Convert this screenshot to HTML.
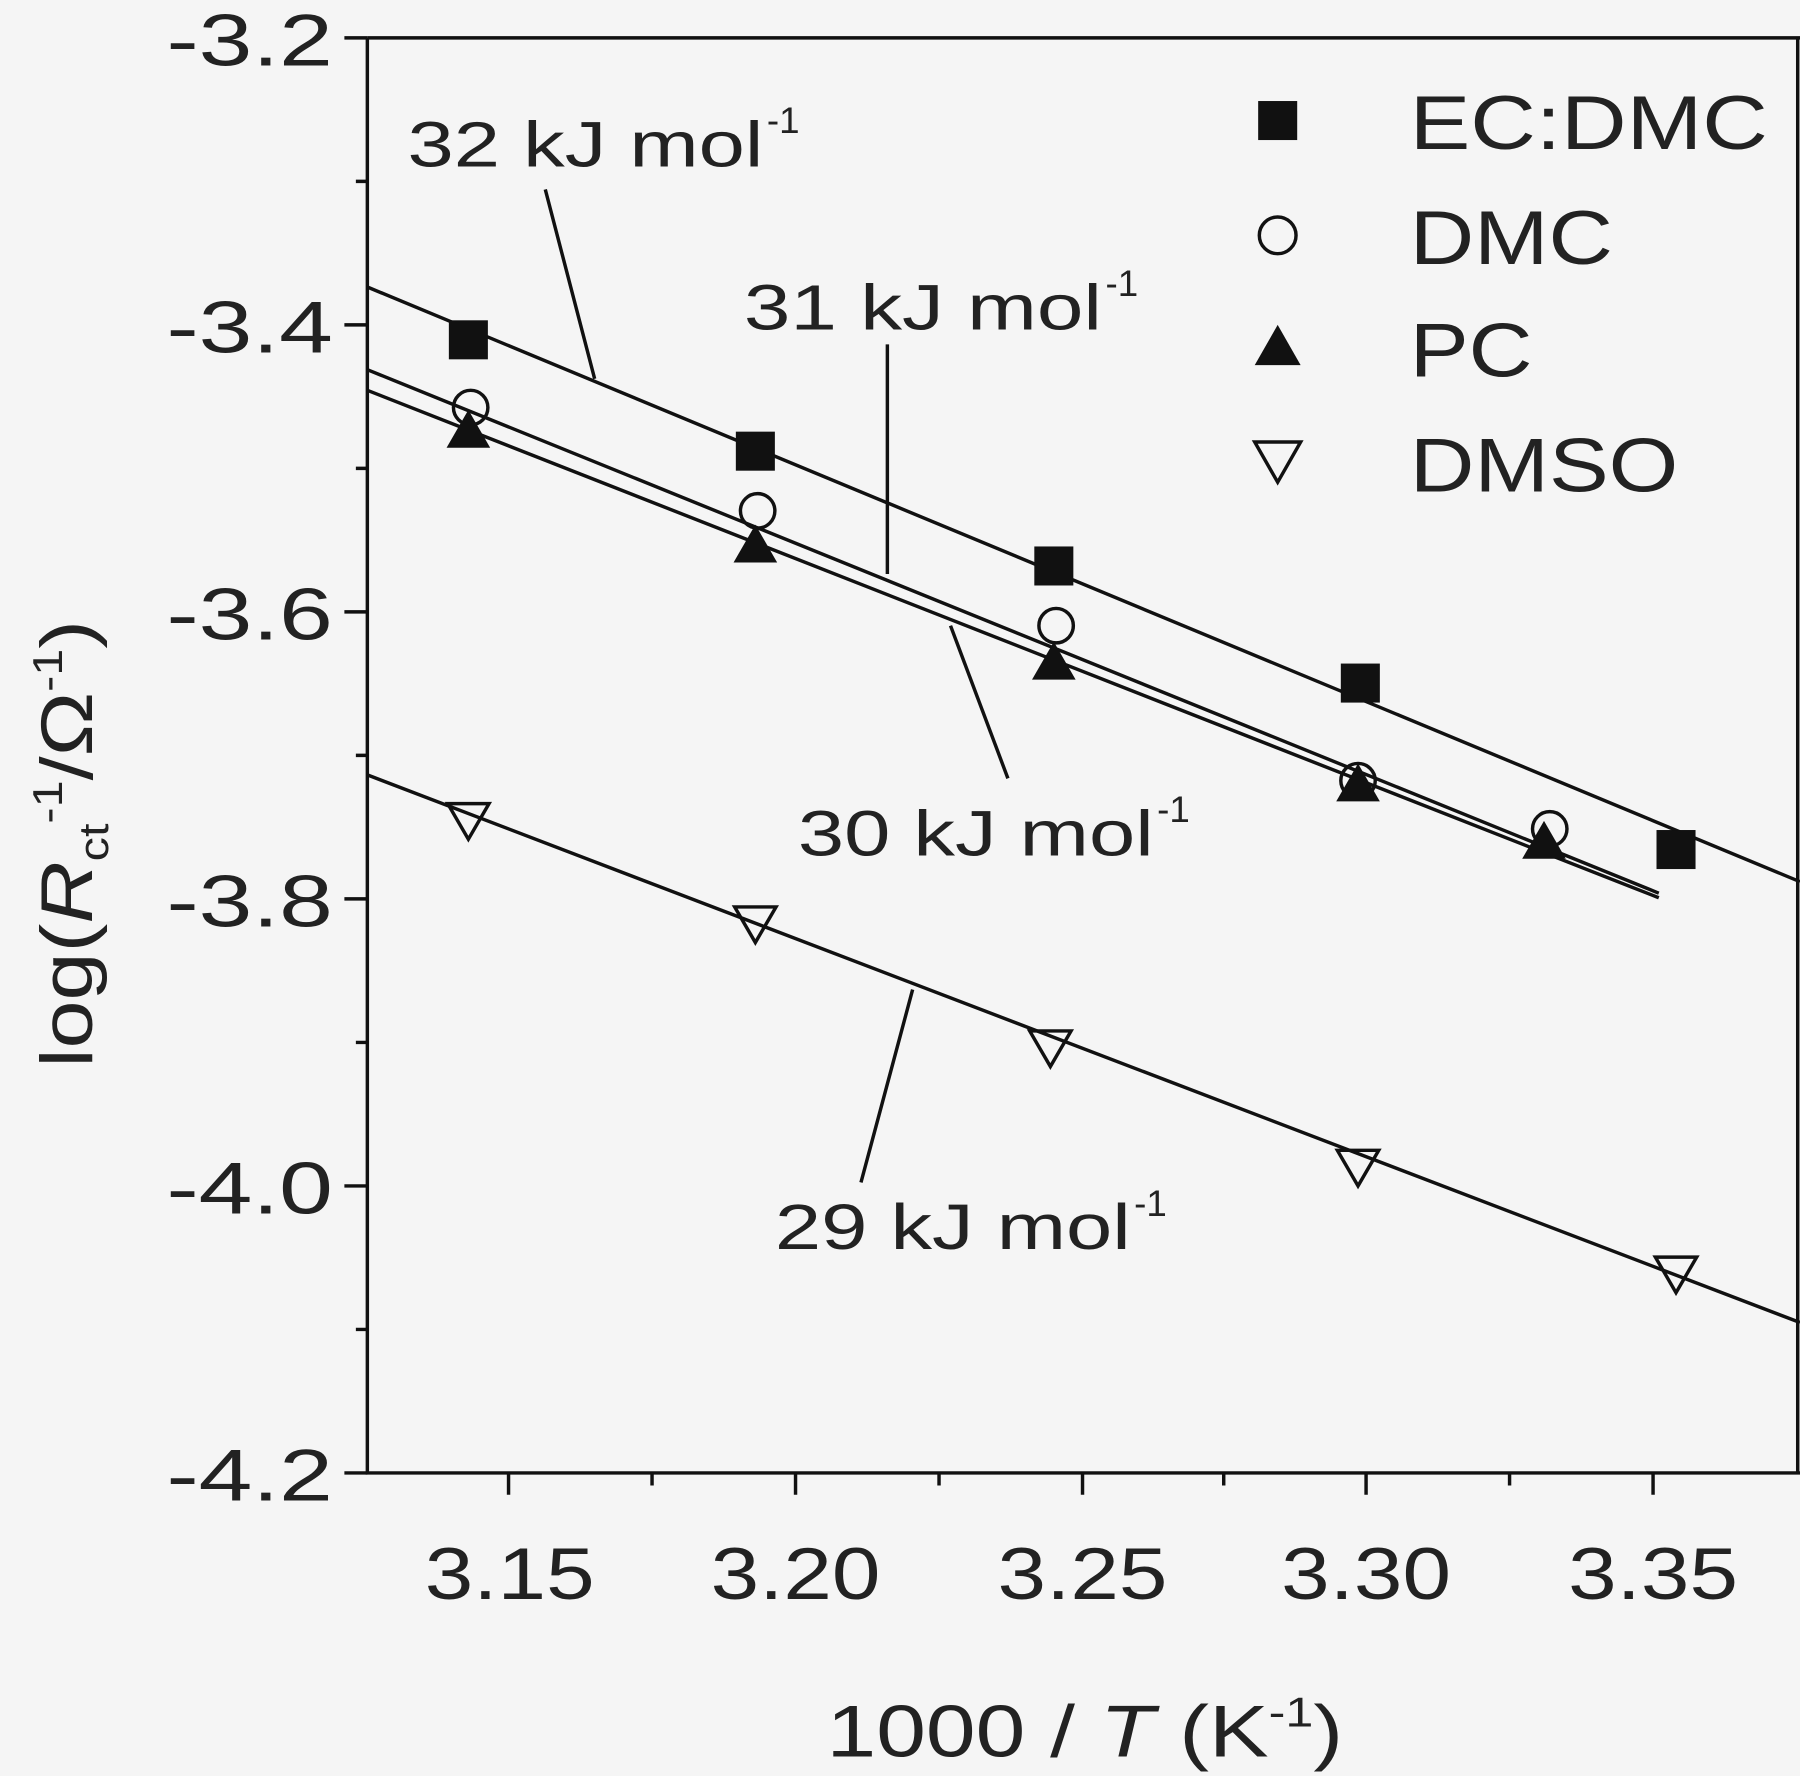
<!DOCTYPE html>
<html><head><style>html,body{margin:0;padding:0;background:#f5f5f5;}svg{display:block}</style></head>
<body>
<svg width="1800" height="1776" viewBox="0 0 1568 1547" preserveAspectRatio="none" xmlns="http://www.w3.org/2000/svg" font-family="Liberation Sans, sans-serif" fill="#1a1a1a">
<rect width="1568" height="1547" fill="#f5f5f5"/>
<g stroke="#111" stroke-width="3" fill="none">
<path d="M320,33 H1568 M320,33 V1283 H1568"/>
<path d="M1566,33 V1283"/>
<path d="M300,33H320 M300,283H320 M300,533H320 M300,783H320 M300,1033H320 M300,1283H320 M310,158H320 M310,408H320 M310,658H320 M310,908H320 M310,1158H320"/>
<path d="M443,1283V1302 M693,1283V1302 M943,1283V1302 M1190,1283V1302 M1440,1283V1302 M568,1283V1294 M818,1283V1294 M1066,1283V1294 M1315,1283V1294"/>
</g>
<g font-size="64" fill="#222" lengthAdjust="spacingAndGlyphs">
<text x="145" y="57" textLength="145" lengthAdjust="spacingAndGlyphs">-3.2</text>
<text x="145" y="307" textLength="145" lengthAdjust="spacingAndGlyphs">-3.4</text>
<text x="145" y="557" textLength="145" lengthAdjust="spacingAndGlyphs">-3.6</text>
<text x="145" y="807" textLength="145" lengthAdjust="spacingAndGlyphs">-3.8</text>
<text x="145" y="1057" textLength="145" lengthAdjust="spacingAndGlyphs">-4.0</text>
<text x="145" y="1307" textLength="145" lengthAdjust="spacingAndGlyphs">-4.2</text>
</g>
<g font-size="64" fill="#222">
<text x="370" y="1393" textLength="148" lengthAdjust="spacingAndGlyphs">3.15</text>
<text x="619" y="1393" textLength="148" lengthAdjust="spacingAndGlyphs">3.20</text>
<text x="869" y="1393" textLength="148" lengthAdjust="spacingAndGlyphs">3.25</text>
<text x="1116" y="1393" textLength="148" lengthAdjust="spacingAndGlyphs">3.30</text>
<text x="1366" y="1393" textLength="148" lengthAdjust="spacingAndGlyphs">3.35</text>
</g>
<text x="720" y="1530" font-size="64" fill="#222" textLength="450" lengthAdjust="spacingAndGlyphs">1000 / <tspan font-style="italic">T</tspan> (K<tspan dy="-26" font-size="36">-1</tspan><tspan dy="26">)</tspan></text>
<text transform="translate(80,735) rotate(-90)" x="-195" y="0" font-size="64" fill="#222" textLength="390" lengthAdjust="spacingAndGlyphs">log(<tspan font-style="italic">R</tspan><tspan dy="14" font-size="36">ct</tspan><tspan dy="-40" font-size="36">-1</tspan><tspan dy="26">/Ω</tspan><tspan dy="-26" font-size="36">-1</tspan><tspan dy="26">)</tspan></text>
<g stroke="#111" stroke-width="3" fill="none">
<line x1="320" y1="250" x2="1568" y2="768"/>
<line x1="320" y1="322" x2="1445" y2="778"/>
<line x1="320" y1="340" x2="1445" y2="782"/>
<line x1="320" y1="675" x2="1568" y2="1152"/>
<line x1="475" y1="165" x2="518" y2="330"/>
<line x1="773" y1="300" x2="773" y2="500"/>
<line x1="828" y1="545" x2="878" y2="678"/>
<line x1="795" y1="862" x2="750" y2="1030"/>
</g>
<g fill="#111">
<rect x="391" y="279" width="34" height="34"/><rect x="641" y="376" width="34" height="34"/><rect x="901" y="476" width="34" height="34"/><rect x="1168" y="578" width="34" height="34"/><rect x="1443" y="723" width="34" height="34"/>
<rect x="1096" y="88" width="34" height="34"/>
</g>
<g fill="none" stroke="#111" stroke-width="3">
<circle cx="410" cy="355" r="15"/><circle cx="660" cy="445" r="15"/><circle cx="920" cy="545" r="15"/><circle cx="1183" cy="680" r="15"/><circle cx="1350" cy="722" r="15"/>
<circle cx="1113" cy="205" r="16"/>
</g>
<g fill="#111">
<path d="M408,357 l19,33 h-38z"/><path d="M658,457 l19,33 h-38z"/><path d="M918,559 l19,33 h-38z"/><path d="M1183,665 l19,33 h-38z"/><path d="M1345,715 l19,33 h-38z"/>
<path d="M1113,283 l20,35 h-40z"/>
</g>
<g fill="none" stroke="#111" stroke-width="3">
<path d="M390,700 h36 l-18,31z"/><path d="M640,790 h36 l-18,31z"/><path d="M897,898 h36 l-18,31z"/><path d="M1165,1002 h36 l-18,31z"/><path d="M1442,1095 h36 l-18,31z"/>
<path d="M1093,385 h40 l-20,35z"/>
</g>
<g font-size="66" fill="#222">
<text x="1228" y="130" textLength="312" lengthAdjust="spacingAndGlyphs">EC:DMC</text>
<text x="1228" y="230" textLength="177" lengthAdjust="spacingAndGlyphs">DMC</text>
<text x="1228" y="328" textLength="107" lengthAdjust="spacingAndGlyphs">PC</text>
<text x="1228" y="428" textLength="234" lengthAdjust="spacingAndGlyphs">DMSO</text>
</g>
<g font-size="56" fill="#222">
<text x="355" y="145" textLength="310" lengthAdjust="spacingAndGlyphs">32 kJ mol</text><text x="668" y="116" font-size="32">-1</text>
<text x="648" y="287" textLength="312" lengthAdjust="spacingAndGlyphs">31 kJ mol</text><text x="963" y="258" font-size="32">-1</text>
<text x="695" y="745" textLength="310" lengthAdjust="spacingAndGlyphs">30 kJ mol</text><text x="1008" y="716" font-size="32">-1</text>
<text x="675" y="1088" textLength="310" lengthAdjust="spacingAndGlyphs">29 kJ mol</text><text x="988" y="1059" font-size="32">-1</text>
</g>
</svg>
</body></html>
